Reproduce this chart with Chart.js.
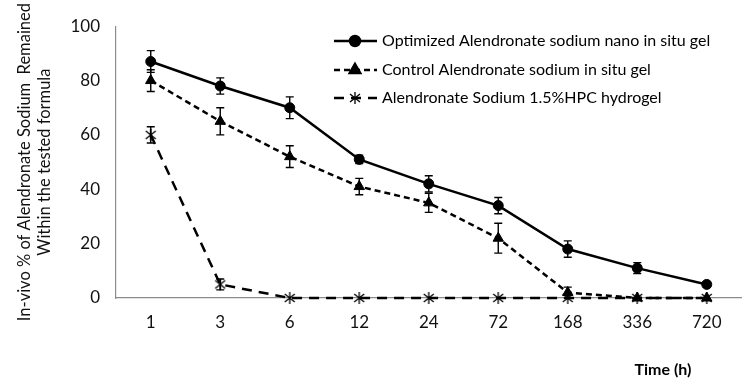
<!DOCTYPE html>
<html>
<head>
<meta charset="utf-8">
<script src="https://cdn.jsdelivr.net/npm/chart.js@4.4.1/dist/chart.umd.min.js"></script>
<style>
  body { margin: 0; background: #fff; }
  #wrap { width: 750px; height: 392px; }
</style>
</head>
<body>
<div id="wrap"><canvas id="myChart" width="750" height="392"></canvas></div>
<script>
// time points (h) shown as categories
const times = ['1', '3', '6', '12', '24', '72', '168', '336', '720'];

const seriesNames = [
    'Optimized Alendronate sodium nano in situ gel',
    'Control Alendronate sodium in situ gel',
    'Alendronate Sodium 1.5%HPC hydrogel'
];

const optimizedValues = [87, 78, 70, 51, 42, 34, 18, 11, 5];
const optimizedErrors = [4, 3, 4, 1.5, 3, 3, 3, 2, 1];

const controlValues = [80, 65, 52, 41, 35, 22, 2, 0, 0];
const controlErrors = [4, 5, 4, 3, 3.5, 5.5, 2, 0, 0];

const hpcValues = [60, 5, 0, 0, 0, 0, 0, 0, 0];
const hpcErrors = [3, 2, 0, 0, 0, 0, 0, 0, 0];

const yTicks = [0, 20, 40, 60, 80, 100];

const FONT = 'Lato, "Liberation Sans", sans-serif';

// asterisk marker for the HPC series (vertical bar + X)
function makeAsterisk() {
    const c = document.createElement('canvas');
    c.width = 14; c.height = 14;
    const g = c.getContext('2d');
    g.strokeStyle = '#000';
    g.lineWidth = 1.3;
    g.beginPath();
    g.moveTo(7, 1); g.lineTo(7, 13);
    g.moveTo(2, 3); g.lineTo(12, 11);
    g.moveTo(12, 3); g.lineTo(2, 11);
    g.stroke();
    return c;
}
const asterisk = makeAsterisk();

const errorSets = [optimizedErrors, controlErrors, hpcErrors];

const errorBars = {
    id: 'errorBars',
    afterDatasetsDraw(chart) {
        const ctx = chart.ctx;
        const y = chart.scales.y;
        ctx.save();
        ctx.strokeStyle = '#000';
        ctx.lineWidth = 1.4;
        chart.data.datasets.forEach(function(ds, i) {
            const meta = chart.getDatasetMeta(i);
            ds.data.forEach(function(v, j) {
                const e = errorSets[i][j];
                if (!e) return;
                const px = meta.data[j].x;
                const top = y.getPixelForValue(v + e);
                const bot = y.getPixelForValue(v - e);
                ctx.beginPath();
                ctx.moveTo(px, top); ctx.lineTo(px, bot);
                ctx.moveTo(px - 4, top); ctx.lineTo(px + 4, top);
                ctx.moveTo(px - 4, bot); ctx.lineTo(px + 4, bot);
                ctx.stroke();
            });
        });
        ctx.restore();
    }
};

const legendBox = {
    id: 'legendBox',
    afterDraw(chart) {
        const ctx = chart.ctx;
        ctx.save();
        ctx.font = '16px ' + FONT;
        ctx.fillStyle = '#000';
        ctx.textBaseline = 'middle';
        const rows = [41, 70, 98];
        chart.data.datasets.forEach(function(ds, i) {
            const yy = rows[i];
            ctx.strokeStyle = '#000';
            ctx.lineWidth = ds.borderWidth;
            ctx.setLineDash(ds.borderDash || []);
            ctx.beginPath();
            ctx.moveTo(334, yy); ctx.lineTo(377, yy);
            ctx.stroke();
            ctx.setLineDash([]);
            ctx.fillStyle = '#000';
            Chart.helpers.drawPoint(ctx, {
                pointStyle: ds.pointStyle,
                radius: ds.pointRadius,
                rotation: 0,
                borderWidth: 1
            }, 355, yy);
            ctx.fillText(ds.label, 382, yy);
        });
        // x axis title
        ctx.font = 'bold 16px ' + FONT;
        ctx.textAlign = 'center';
        ctx.fillText('Time (h)', 663, 370);
        ctx.restore();
    }
};

new Chart(document.getElementById('myChart').getContext('2d'), {
    type: 'line',
    data: {
        labels: times,
        datasets: [
            {
                label: seriesNames[0],
                data: optimizedValues,
                borderColor: '#000',
                backgroundColor: '#000',
                borderWidth: 2.5,
                pointStyle: 'circle',
                pointRadius: 5,
                pointBorderWidth: 1
            },
            {
                label: seriesNames[1],
                data: controlValues,
                borderColor: '#000',
                backgroundColor: '#000',
                borderWidth: 2.5,
                borderDash: [6, 4],
                pointStyle: 'triangle',
                pointRadius: 6,
                pointBorderWidth: 1
            },
            {
                label: seriesNames[2],
                data: hpcValues,
                borderColor: '#000',
                backgroundColor: '#000',
                borderWidth: 2.5,
                borderDash: [10, 7],
                pointStyle: asterisk,
                pointRadius: 6
            }
        ]
    },
    options: {
        responsive: false,
        animation: false,
        clip: false,
        layout: { padding: { left: 0, top: 22, right: 7, bottom: 0 } },
        plugins: {
            legend: { display: false },
            tooltip: { enabled: false }
        },
        scales: {
            x: {
                offset: true,
                grid: { display: false, drawTicks: false, offset: true },
                border: { color: '#8c8c8c', width: 1.2 },
                ticks: { color: '#111', font: { size: 17, family: FONT }, padding: 14 },
                afterFit: function(s) { s.height = 94; }
            },
            y: {
                min: 0,
                max: 100,
                afterBuildTicks: function(s) { s.ticks = yTicks.map(v => ({ value: v })); },
                grid: { display: false, drawTicks: false },
                border: { color: '#8c8c8c', width: 1.2 },
                ticks: { color: '#111', font: { size: 17, family: FONT }, padding: 16 },
                title: {
                    display: true,
                    text: ['In-vivo % of Alendronate Sodium  Remained', 'Within the tested formula'],
                    color: '#111',
                    font: { size: 16.5, family: FONT },
                    padding: { top: 15, bottom: 0 }
                },
                afterFit: function(s) { s.width = 116; }
            }
        }
    },
    plugins: [errorBars, legendBox]
});
</script>
</body>
</html>
